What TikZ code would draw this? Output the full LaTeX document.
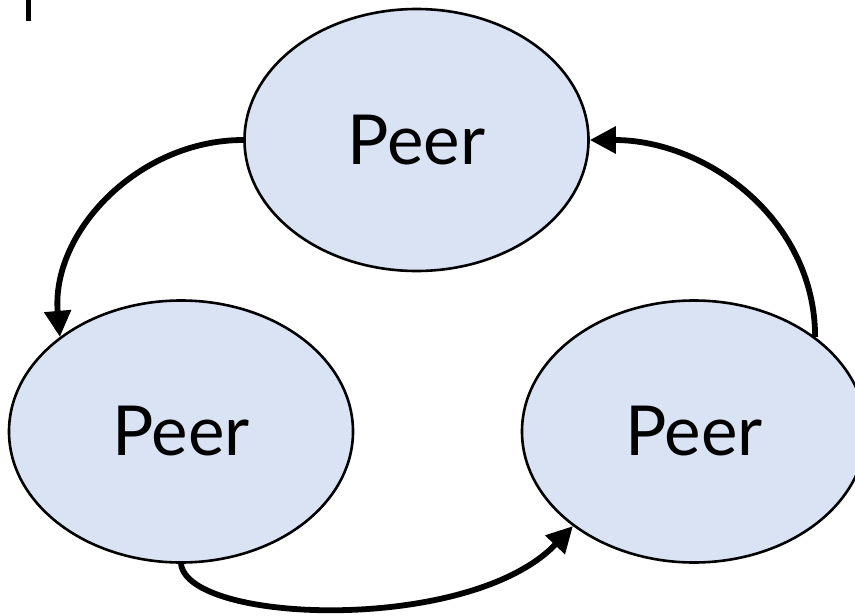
\documentclass[tikz,border=0pt]{standalone}
\usepackage{fontspec}
\setmainfont{Lato}
\usetikzlibrary{shapes.geometric,arrows.meta}
\definecolor{peerfill}{HTML}{DAE3F3}
\tikzset{
  peer/.style={ellipse, draw=black, line width=2.6pt, fill=peerfill,
    minimum width=344pt, minimum height=262pt, inner sep=0pt,
    font=\fontsize{69}{69}\selectfont},
  flow/.style={line width=5.8pt, -{Triangle[length=26pt,width=26pt]}}
}
\begin{document}
\begin{tikzpicture}[x=1pt,y=-1pt]
\useasboundingbox (0,0) rectangle (855,616);
\clip (0,0) rectangle (855,616);
\fill[black] (26,0) rectangle (30.5,21);
\node[peer] (T) at (416.5,140) {Peer};
\node[peer] (L) at (181,431.5) {Peer};
\node[peer] (R) at (694,431.5) {Peer};
\draw[flow] (T.west) to[out=180,in=95] (L.142);
\draw[flow] (R.38) to[out=90,in=0] (T.east);
\draw[flow] (L.south) .. controls (188,624) and (470,634) .. (R.218);
\end{tikzpicture}
\end{document}
